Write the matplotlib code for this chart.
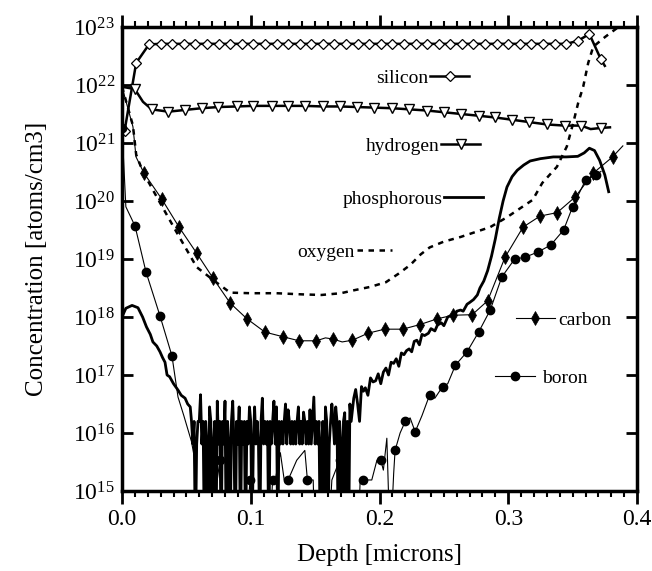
import numpy as np
import matplotlib
matplotlib.use("Agg")
import matplotlib.pyplot as plt
from matplotlib.legend import Legend
from matplotlib.ticker import MultipleLocator, NullLocator, FormatStrFormatter

plt.rcParams["font.family"] = ["Liberation Serif", "DejaVu Serif"]
plt.rcParams["mathtext.fontset"] = "custom"
plt.rcParams["mathtext.rm"] = "Liberation Serif"
plt.rcParams["mathtext.it"] = "Liberation Serif:italic"
plt.rcParams["mathtext.bf"] = "Liberation Serif:bold"

# depth in microns, concentration as log10(atoms/cm3)
silicon_depth = [0.002, 0.011, 0.021, 0.030, 0.039, 0.048, 0.057, 0.066, 0.075, 0.084,
                 0.093, 0.102, 0.111, 0.120, 0.129, 0.138, 0.147, 0.156, 0.165, 0.174,
                 0.183, 0.192, 0.201, 0.210, 0.219, 0.228, 0.237, 0.246, 0.255, 0.264,
                 0.273, 0.282, 0.291, 0.300, 0.309, 0.318, 0.327, 0.336, 0.345, 0.354,
                 0.363, 0.372, 0.375]
silicon_log = [21.21, 22.38, 22.70, 22.71, 22.71, 22.71, 22.71, 22.71, 22.71, 22.71,
               22.71, 22.71, 22.71, 22.71, 22.71, 22.71, 22.71, 22.71, 22.71, 22.71,
               22.71, 22.71, 22.71, 22.71, 22.71, 22.71, 22.71, 22.71, 22.71, 22.71,
               22.71, 22.71, 22.71, 22.71, 22.71, 22.71, 22.71, 22.71, 22.71, 22.76,
               22.88, 22.44, 22.33]

hydrogen_depth = [0.000, 0.0099, 0.0163, 0.0231, 0.0360, 0.0490, 0.0619, 0.0748, 0.0891,
                  0.1020, 0.1163, 0.1292, 0.1422, 0.1558, 0.1694, 0.1828, 0.1960, 0.2096,
                  0.2232, 0.2368, 0.2502, 0.2634, 0.2769, 0.2898, 0.3033, 0.3165, 0.3300,
                  0.3437, 0.3566, 0.3640, 0.3722, 0.379]
hydrogen_log = [21.97, 21.93, 21.71, 21.58, 21.54, 21.57, 21.60, 21.62, 21.63,
                21.64, 21.64, 21.64, 21.64, 21.63, 21.63, 21.62, 21.61, 21.60,
                21.58, 21.56, 21.53, 21.50, 21.47, 21.44, 21.40, 21.36, 21.32,
                21.30, 21.30, 21.24, 21.26, 21.27]
hydrogen_marks = [1] + list(range(3, 29)) + [30]

carbon_depth = [0.000, 0.0085, 0.0109, 0.0171, 0.031, 0.0443, 0.058, 0.0707, 0.084, 0.097,
                0.111, 0.125, 0.1375, 0.151, 0.158, 0.164, 0.171, 0.179, 0.191, 0.204,
                0.218, 0.2315, 0.245, 0.257, 0.272, 0.284, 0.2975, 0.3115, 0.3247, 0.338,
                0.352, 0.366, 0.381, 0.389]
carbon_log = [21.97, 21.28, 20.76, 20.48, 20.03, 19.55, 19.10, 18.67, 18.24, 17.97,
              17.74, 17.66, 17.59, 17.59, 17.64, 17.62, 17.57, 17.60, 17.72, 17.79,
              17.79, 17.87, 17.97, 18.03, 18.04, 18.28, 19.03, 19.55, 19.74, 19.80,
              20.07, 20.48, 20.76, 20.95]
carbon_marks = [3, 4, 5, 6, 7, 8, 9, 10, 11, 12, 13, 15, 17, 18, 19, 20, 21, 22, 23, 24,
                25, 26, 27, 28, 29, 30, 31, 32]

oxygen_depth = [0.000, 0.0085, 0.011, 0.0163, 0.0295, 0.0427, 0.058, 0.0707, 0.084, 0.100,
                0.120, 0.140, 0.155, 0.170, 0.180, 0.193, 0.205, 0.215, 0.224, 0.232,
                0.239, 0.250, 0.263, 0.286, 0.299, 0.319, 0.3264, 0.3378, 0.3455, 0.3504,
                0.3543, 0.3582, 0.3621, 0.366, 0.3753, 0.3844, 0.395]
oxygen_log = [21.97, 21.30, 20.80, 20.50, 19.97, 19.45, 18.86, 18.64, 18.42, 18.41,
              18.41, 18.39, 18.38, 18.41, 18.46, 18.52, 18.60, 18.75, 18.90, 19.08,
              19.20, 19.30, 19.38, 19.55, 19.72, 20.02, 20.31, 20.59, 20.94, 21.34,
              21.69, 21.97, 22.38, 22.66, 22.83, 22.98, 23.10]

phos_depth = [0.000, 0.003, 0.0078, 0.0124, 0.016, 0.019, 0.022, 0.024, 0.027, 0.0295,
              0.0315, 0.0334, 0.035, 0.037, 0.040, 0.0435, 0.046, 0.049, 0.051,
              0.053, 0.054, 0.055, 0.056, 0.057, 0.058, 0.059, 0.060, 0.061, 0.062,
              0.063, 0.064, 0.065, 0.066, 0.067, 0.068, 0.069, 0.070, 0.071, 0.072,
              0.073, 0.074, 0.075, 0.076, 0.077, 0.078, 0.079, 0.080, 0.081, 0.082,
              0.083, 0.084, 0.085, 0.086, 0.087, 0.088, 0.089, 0.090, 0.091, 0.092,
              0.093, 0.094, 0.095, 0.096, 0.097, 0.098, 0.099, 0.100, 0.101, 0.102,
              0.103, 0.104, 0.105, 0.106, 0.107, 0.108, 0.109, 0.110, 0.111, 0.112,
              0.113, 0.114, 0.115, 0.116, 0.117, 0.118, 0.119, 0.120, 0.121, 0.122,
              0.123, 0.124, 0.125, 0.126, 0.127, 0.128, 0.129, 0.130, 0.131, 0.132,
              0.133, 0.134, 0.135, 0.136, 0.137, 0.138, 0.139, 0.140, 0.141, 0.142,
              0.143, 0.144, 0.145, 0.146, 0.147, 0.148, 0.149, 0.150, 0.151, 0.152,
              0.153, 0.154, 0.155, 0.156, 0.157, 0.158, 0.159, 0.160, 0.161, 0.162,
              0.163, 0.164, 0.165, 0.166, 0.167, 0.168, 0.169, 0.170, 0.171, 0.172,
              0.173, 0.174, 0.175, 0.176, 0.177, 0.178,
              0.180, 0.1815, 0.183, 0.1845, 0.186, 0.1875, 0.189, 0.191, 0.193, 0.195,
              0.197, 0.199, 0.201, 0.203, 0.205, 0.207, 0.209, 0.211, 0.213, 0.215,
              0.217, 0.219, 0.221, 0.223, 0.225, 0.227, 0.229, 0.231, 0.233, 0.235,
              0.238, 0.240, 0.243, 0.245, 0.248, 0.250, 0.253, 0.255, 0.258, 0.260,
              0.263, 0.265, 0.268, 0.270, 0.273, 0.276, 0.278, 0.281,
              0.284, 0.287, 0.290, 0.293, 0.296, 0.299, 0.303, 0.307,
              0.312, 0.317, 0.325, 0.335, 0.345, 0.354, 0.359, 0.363, 0.367, 0.371,
              0.375, 0.378]
phos_log = [18.00, 18.15, 18.20, 18.16, 18.00, 17.83, 17.70, 17.57, 17.50, 17.40,
            17.30, 17.22, 17.00, 16.97, 16.85, 16.74, 16.65, 16.60, 16.50,
            16.45, 16.20, 15.81, 16.20, 14.00, 15.81, 16.20, 16.20, 16.66, 15.81,
            16.20, 14.00, 16.20, 15.81, 14.00, 16.45, 16.20, 14.00, 15.81, 16.20,
            14.00, 16.55, 15.81, 16.20, 14.00, 16.20, 15.81, 16.55, 14.00, 16.20,
            15.81, 14.00, 16.20, 16.55, 15.81, 14.00, 16.20, 15.81, 16.45, 14.00,
            16.20, 15.81, 16.20, 14.00, 16.20, 15.81, 16.45, 16.20, 14.00, 15.81,
            16.45, 15.81, 16.20, 15.81, 14.00, 16.20, 16.60, 15.81, 16.20, 15.81,
            16.20, 14.00, 16.20, 15.81, 16.20, 16.55, 15.81, 16.45, 14.00, 16.20,
            15.81, 16.20, 15.81, 16.20, 16.50, 15.81, 16.40, 16.20, 15.81, 16.20,
            15.81, 16.20, 15.81, 16.20, 16.45, 15.81, 16.20, 15.81, 16.36, 16.20,
            15.81, 16.20, 15.81, 16.40, 15.81, 16.20, 16.62, 15.81, 16.20, 15.81,
            16.20, 14.00, 15.81, 16.20, 14.00, 16.45, 16.20, 14.00, 15.81, 16.20,
            16.50, 16.20, 15.81, 16.45, 16.20, 14.00, 16.20, 15.81, 14.00, 16.20,
            16.35, 14.00, 16.20, 14.00, 16.50, 16.20,
            16.60, 16.75, 16.50, 16.20, 16.80, 16.72, 16.78, 16.65, 16.95, 16.88,
            16.90, 17.02, 16.85, 17.05, 17.12, 17.00, 17.22, 17.20, 17.28, 17.15,
            17.38, 17.35, 17.42, 17.45, 17.40, 17.58, 17.60, 17.52, 17.70, 17.68,
            17.72, 17.80, 17.76, 17.86, 17.90, 17.85, 18.00, 18.02, 18.00, 18.10,
            18.12, 18.10, 18.22, 18.25, 18.30, 18.38, 18.50, 18.62,
            18.80, 19.05, 19.35, 19.70, 20.00, 20.24, 20.42, 20.53,
            20.62, 20.69, 20.73, 20.76, 20.76, 20.77, 20.83, 20.91, 20.87, 20.70,
            20.45, 20.16]

boron_depth = [0.000, 0.003, 0.0101, 0.0186, 0.0295, 0.0388, 0.0435, 0.048, 0.054, 0.056,
               0.059, 0.068, 0.0723, 0.074, 0.076, 0.079, 0.095, 0.0995, 0.102, 0.114,
               0.117, 0.119, 0.123, 0.126, 0.129, 0.1357, 0.142, 0.144, 0.1485, 0.150,
               0.160, 0.163, 0.169, 0.1733, 0.176, 0.183, 0.185, 0.1875, 0.194, 0.198,
               0.201, 0.203, 0.2057, 0.2083, 0.211, 0.2121, 0.216, 0.220, 0.2238, 0.2277,
               0.233, 0.239, 0.243, 0.249, 0.253, 0.259, 0.268, 0.277, 0.286, 0.295,
               0.305, 0.313, 0.323, 0.333, 0.343, 0.350, 0.360, 0.368, 0.372]
boron_log = [21.26, 19.90, 19.57, 18.78, 18.02, 17.33, 16.62, 16.30, 15.85, 15.60,
             14.00, 14.00, 15.48, 15.19, 15.53, 14.00, 14.00, 15.19, 14.00, 14.00,
             15.19, 15.19, 15.66, 15.19, 15.19, 15.53, 15.70, 15.19, 15.19, 14.00,
             14.00, 15.19, 15.53, 15.59, 14.00, 14.00, 15.19, 15.19, 15.19, 15.53,
             15.53, 15.36, 15.91, 14.00, 15.30, 15.70, 16.00, 16.20, 16.26, 16.02,
             16.30, 16.66, 16.60, 16.80, 16.85, 17.17, 17.40, 17.74, 18.12, 18.69,
             19.00, 19.03, 19.12, 19.24, 19.50, 19.90, 20.36, 20.45, 20.51]
boron_marks = [0, 2, 3, 4, 5, 14, 17, 20, 24, 27, 32, 37, 40, 45, 47, 49, 51, 53, 55, 56,
               57, 58, 59, 60, 61, 62, 63, 64, 65, 66, 67]


def conc(values):
    return np.power(10.0, np.asarray(values))


fig = plt.figure(figsize=(6.52, 5.71), dpi=100)
ax = fig.add_axes([122 / 652, 1 - 491 / 571, 515 / 652, 464 / 571])

si_line, = ax.plot(silicon_depth, conc(silicon_log), color="black", lw=1.8,
                   marker="D", markersize=5, mfc="white", mec="black", mew=0.9,
                   markevery=list(range(len(silicon_depth) - 1)))
h_line, = ax.plot(hydrogen_depth, conc(hydrogen_log), color="black", lw=1.8,
                  marker="v", markersize=7.5, mfc="white", mec="black", mew=1.0,
                  markevery=hydrogen_marks)
o_line, = ax.plot(oxygen_depth, conc(oxygen_log), color="black", lw=1.8,
                  dashes=(2.2, 2.2))
c_line, = ax.plot(carbon_depth, conc(carbon_log), color="black", lw=0.8,
                  marker="d", markersize=7, mfc="black", mec="black", mew=0.5,
                  markevery=carbon_marks)
b_line, = ax.plot(boron_depth, conc(boron_log), color="black", lw=0.8,
                  marker="o", markersize=6, mfc="black", mec="black",
                  markevery=boron_marks)
p_line, = ax.plot(phos_depth, conc(phos_log), color="black", lw=2.0)

ax.set_yscale("log")
ax.set_xlim(0, 0.4)
ax.set_ylim(1e15, 1e23)
ax.set_yticks([10.0 ** k for k in range(15, 24)])
ax.yaxis.set_minor_locator(NullLocator())
ax.xaxis.set_major_locator(MultipleLocator(0.1))
ax.xaxis.set_minor_locator(MultipleLocator(0.01))
ax.xaxis.set_major_formatter(FormatStrFormatter("%.1f"))

ax.tick_params(axis="y", which="major", direction="in", length=8, width=2,
               left=True, right=True, labelsize=17, pad=5)
ax.tick_params(axis="x", which="major", direction="out", length=9, width=2,
               top=True, bottom=True, labelsize=17, pad=4)
ax.tick_params(axis="x", which="minor", direction="out", length=4, width=1.5,
               top=True, bottom=True)
for sp in ax.spines.values():
    sp.set_linewidth(2.5)

ax.set_xlabel("Depth [microns]", fontsize=18, labelpad=10)
ax.set_ylabel("Concentration [atoms/cm3]", fontsize=18, labelpad=18)

# labels next to the curves, one small legend each
labels = [
    (si_line, "silicon", 469, 78, False, 2.0, 0.1),
    (h_line, "hydrogen", 480, 146, False, 2.0, 0.1),
    (p_line, "phosphorous", 483, 199, False, 2.0, 0.1),
    (o_line, "oxygen", 392, 252, False, 1.8, 0.1),
    (c_line, "carbon", 516, 320, True, 2.0, 0.15),
    (b_line, "boron", 495, 378, True, 2.05, 0.35),
]
for handle, text, px, py, first, hlen, tpad in labels:
    leg = Legend(ax, [handle], [text], loc="center left" if first else "center right",
                 bbox_to_anchor=(px / 652, 1 - py / 571), bbox_transform=fig.transFigure,
                 frameon=False, markerfirst=first, numpoints=1, fontsize=14,
                 handlelength=hlen, handletextpad=tpad, borderpad=0, borderaxespad=0)
    ax.add_artist(leg)

fig.savefig("out.png", dpi=100)
